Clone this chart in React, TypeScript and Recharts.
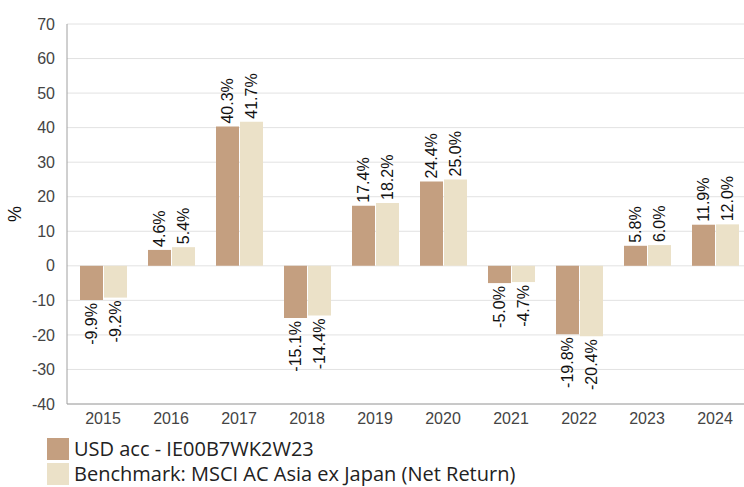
import React from 'react';
import { BarChart, Bar, XAxis, YAxis, CartesianGrid, LabelList } from 'recharts';

const years = ['2015', '2016', '2017', '2018', '2019', '2020', '2021', '2022', '2023', '2024'];
const fundValues = [-9.9, 4.6, 40.3, -15.1, 17.4, 24.4, -5.0, -19.8, 5.8, 11.9];
const benchValues = [-9.2, 5.4, 41.7, -14.4, 18.2, 25.0, -4.7, -20.4, 6.0, 12.0];
const yTicks = [-40, -30, -20, -10, 0, 10, 20, 30, 40, 50, 60, 70];
const fundName = 'USD acc - IE00B7WK2W23';
const benchName = 'Benchmark: MSCI AC Asia ex Japan (Net Return)';

const FUND_COLOR = '#c49f80';
const BENCH_COLOR = '#ebe1c8';
const FONT = 'Liberation Sans';

const data = years.map((y, i) => ({ year: y, fund: fundValues[i], bench: benchValues[i] }));

const renderLabel = (props: any) => {
  const { x, y, width, height, value } = props;
  const top = Math.min(y, y + height);
  const bottom = Math.max(y, y + height);
  const cx = x + width / 2;
  const positive = value >= 0;
  const ay = positive ? top - 3 : bottom + 3;
  return (
    <text
      x={cx}
      y={ay}
      transform={`rotate(-90 ${cx} ${ay})`}
      textAnchor={positive ? 'start' : 'end'}
      dominantBaseline="central"
      fontFamily={FONT}
      fontSize={16}
      fill="#111"
    >
      {value.toFixed(1)}%
    </text>
  );
};

const renderYLabel = (props: any) => {
  const vb = props.viewBox;
  const x = 15;
  const y = vb.y + vb.height / 2;
  return (
    <text
      x={x}
      y={y}
      transform={`rotate(-90 ${x} ${y})`}
      textAnchor="middle"
      dominantBaseline="central"
      fontFamily={FONT}
      fontSize={18}
      fill="#111"
    >
      %
    </text>
  );
};

const tickStyle = { fontFamily: FONT, fontSize: 16, fill: '#444' };

export default function App() {
  return (
    <div style={{ position: 'absolute', left: 0, top: 0, width: 744, height: 487, overflow: 'hidden', background: '#fff', fontFamily: FONT }}>
      <BarChart
        width={750}
        height={487}
        data={data}
        margin={{ top: 24, right: 1, left: 30, bottom: 53 }}
        barSize={23}
        barGap={1}
      >
        <CartesianGrid vertical={false} stroke="#e2e2e2" />
        <XAxis
          dataKey="year"
          height={30}
          tickLine={false}
          axisLine={{ stroke: '#a0a0a0' }}
          tick={tickStyle}
          padding={{ left: 2, right: 0 }}
          tickMargin={3}
          interval={0}
        />
        <YAxis
          width={37}
          domain={[-40, 70]}
          ticks={yTicks}
          tickLine={false}
          axisLine={{ stroke: '#a0a0a0' }}
          tick={tickStyle}
          tickMargin={6}
          interval={0}
          label={renderYLabel}
        />
        <Bar dataKey="fund" name={fundName} fill={FUND_COLOR} isAnimationActive={false}>
          <LabelList dataKey="fund" content={renderLabel} />
        </Bar>
        <Bar dataKey="bench" name={benchName} fill={BENCH_COLOR} isAnimationActive={false}>
          <LabelList dataKey="bench" content={renderLabel} />
        </Bar>
      </BarChart>
      <div style={{ position: 'absolute', left: 47, top: 436, fontFamily: "'Open Sans', sans-serif", fontSize: 20, color: '#222', lineHeight: '24px' }}>
        <div style={{ display: 'flex', alignItems: 'center', height: 25 }}>
          <span style={{ display: 'inline-block', width: 22, height: 22, background: FUND_COLOR, marginRight: 5 }} />
          <span>{fundName}</span>
        </div>
        <div style={{ display: 'flex', alignItems: 'center', height: 25 }}>
          <span style={{ display: 'inline-block', width: 22, height: 22, background: BENCH_COLOR, marginRight: 5 }} />
          <span>{benchName}</span>
        </div>
      </div>
    </div>
  );
}
